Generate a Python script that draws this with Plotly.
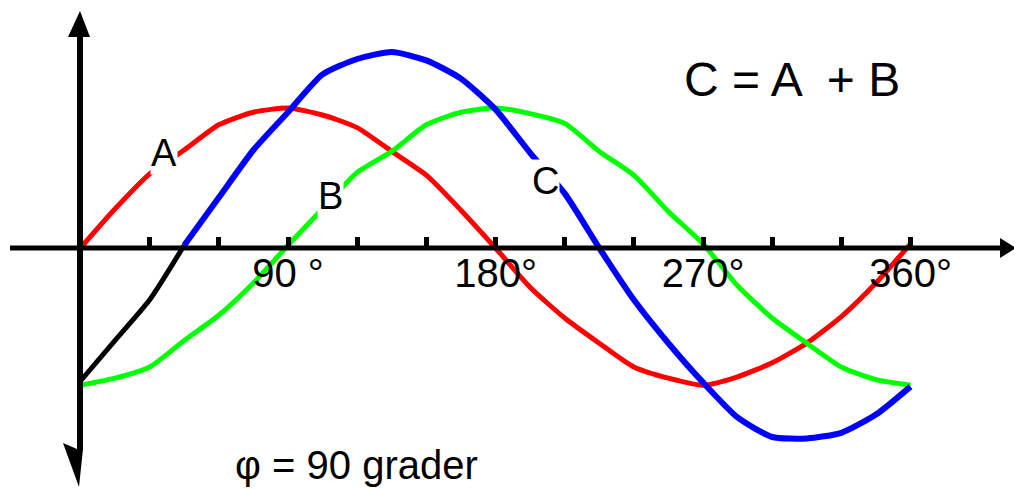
import plotly.graph_objects as go

# ---------------- data ----------------
degrees = [0, 15, 30, 45, 60, 75, 90, 105, 120, 135, 150, 165, 180,
           195, 210, 225, 240, 255, 270, 285, 300, 315, 330, 345, 360]
curve_a = [0.0, 0.28, 0.53, 0.70, 0.88, 0.97, 1.0, 0.95, 0.86, 0.69, 0.52, 0.27, 0.0,
           -0.28, -0.50, -0.68, -0.85, -0.93, -0.98, -0.92, -0.82, -0.68, -0.49, -0.25, 0.03]
curve_b = [-0.98, -0.93, -0.85, -0.66, -0.48, -0.25, 0.02, 0.28, 0.54, 0.69, 0.88, 0.97, 1.0,
           0.96, 0.89, 0.69, 0.52, 0.26, 0.03, -0.27, -0.50, -0.68, -0.85, -0.94, -0.98]
curve_c = [-0.95, -0.66, -0.37, 0.02, 0.36, 0.70, 0.97, 1.24, 1.35, 1.40, 1.34, 1.21, 0.99,
           0.68, 0.39, 0.0, -0.37, -0.68, -0.96, -1.21, -1.35, -1.36, -1.32, -1.19, -0.99]
c_negative_start = 4          # first points of C drawn in black (up to 45 degrees)

major_ticks = [90, 180, 270, 360]
major_labels = ["90 °", "180°", "270°", "360°"]
minor_ticks = [30, 60, 120, 150, 210, 240, 300, 330]

# ---------------- layout geometry ----------------
W, H = 1014, 489
X0PX, PX_PER_DEG = 80.5, 830 / 360
Y0PX, PX_PER_UNIT = 248, 140
x_range = [-X0PX / PX_PER_DEG, (W - X0PX) / PX_PER_DEG]
y_range = [-(H - Y0PX) / PX_PER_UNIT, Y0PX / PX_PER_UNIT]


def px(x):
    return x / W


def py(y):
    return 1 - y / H


def path(points):
    return "M " + " L ".join(f"{px(a):.5f},{py(b):.5f}" for a, b in points) + " Z"


fig = go.Figure()
fig.add_trace(go.Scatter(x=degrees, y=curve_a, mode="lines",
                         line=dict(color="#ff0000", width=5, shape="spline", smoothing=0.6)))
fig.add_trace(go.Scatter(x=degrees, y=curve_b, mode="lines",
                         line=dict(color="#00ff00", width=5, shape="spline", smoothing=0.6)))
fig.add_trace(go.Scatter(x=degrees[:c_negative_start], y=curve_c[:c_negative_start], mode="lines",
                         line=dict(color="#000000", width=5, shape="spline", smoothing=0.6)))
fig.add_trace(go.Scatter(x=degrees[c_negative_start - 1:], y=curve_c[c_negative_start - 1:], mode="lines",
                         line=dict(color="#0000ff", width=6, shape="spline", smoothing=0.6)))

shapes = [
    dict(type="line", xref="paper", yref="paper", x0=px(10), x1=px(1002), y0=py(248), y1=py(248),
         line=dict(color="black", width=5)),
    dict(type="line", xref="paper", yref="paper", x0=px(80), x1=px(80), y0=py(34), y1=py(450),
         line=dict(color="black", width=6)),
    dict(type="path", xref="paper", yref="paper", path=path([(1000, 238), (1016, 248), (1000, 258)]),
         fillcolor="black", line=dict(width=0)),
    dict(type="path", xref="paper", yref="paper", path=path([(68, 37), (80, 11), (90, 37)]),
         fillcolor="black", line=dict(width=0)),
    dict(type="path", xref="paper", yref="paper", path=path([(63, 443), (77, 449), (83, 449), (79, 487)]),
         fillcolor="black", line=dict(width=0)),
]

font_main = "Liberation Sans, Arial, sans-serif"


def label(text, x, y, size, bg=True):
    return dict(text=text, xref="paper", yref="paper", x=px(x), y=py(y), showarrow=False,
                xanchor="center", yanchor="middle", font=dict(family=font_main, size=size, color="black"),
                bgcolor="white" if bg else "rgba(0,0,0,0)", borderpad=0)


annotations = [
    label("A", 164, 153, 38),
    label("B", 330, 196, 38),
    label("C", 545, 181, 38),
    label("C = A  + B", 792, 80, 48, bg=False),
    label("φ = 90 grader", 356, 465, 40, bg=False),
]

fig.update_layout(
    width=W, height=H, margin=dict(l=0, r=0, t=0, b=0),
    paper_bgcolor="white", plot_bgcolor="white", showlegend=False,
    shapes=shapes, annotations=annotations,
    xaxis=dict(range=x_range, anchor="free", position=py(248), showline=False, showgrid=False,
               zeroline=False, tickvals=major_ticks, ticktext=major_labels, ticks="inside",
               ticklen=11, tickwidth=5, tickcolor="black", ticklabelstandoff=-2,
               tickfont=dict(family="Liberation Sans, Arial", size=40, color="black"),
               minor=dict(tickvals=minor_ticks, ticks="inside", ticklen=11, tickwidth=5, tickcolor="black"),
               fixedrange=True),
    yaxis=dict(range=y_range, visible=False, fixedrange=True),
)

fig.write_html("out.html", config={"displayModeBar": False, "staticPlot": True},
               post_script="document.body.style.margin='0px';")
